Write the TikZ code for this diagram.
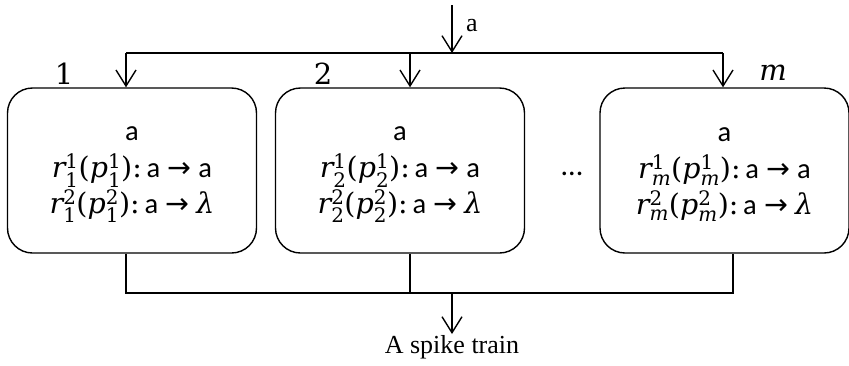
\documentclass[tikz,border=0pt]{standalone}
\usepackage{amsmath}
\usepackage{fontspec}
\setmainfont{Liberation Serif}
\newfontfamily\calib{Carlito}
\newfontfamily\djv{DejaVu Serif}
\newfontfamily\djs{DejaVu Sans}
\usetikzlibrary{arrows.meta}
% italic and upright symbols in a wide serif face
\newcommand\mi[1]{\text{\djv\itshape #1}}
\newcommand\mn[1]{\text{\djv #1}}
\newcommand\spk{{\calib a}}
% one firing rule: r_i^j(p_i^j): a -> product
\newcommand\firerule[3]{$\mi{r}_{#1}^{\mn{#2}}\mn{(}\mi{p}_{#1}^{\mn{#2}}\mn{)}$\mn{:}\,\spk\ {\djs →}\ #3}
\begin{document}
\begin{tikzpicture}[x=1pt,y=-1pt,
  wire/.style={line width=1.4pt},
  feed/.style={wire,-{Straight Barb[length=16pt,width=20pt,line width=1.4pt]}},
  neuron/.style={draw,line width=1.4pt,rounded corners=25pt,minimum width=249pt,
    minimum height=165pt,inner sep=0pt},
  rules/.style={align=center,inner sep=0pt,font=\fontsize{28.5}{35.5}\selectfont},
  tag/.style={font=\fontsize{29}{32}\selectfont}]
\useasboundingbox (0,0) rectangle (849,365);

% neurons and their contents
\node[neuron] (n1) at (132,170.5) {};
\node[neuron] (n2) at (400,170.5) {};
\node[neuron] (n3) at (724.5,170.5) {};
\node[rules] (r1) at ([yshift=-4pt]n1.center) {\spk\\[2pt]\firerule{\mn{1}}{1}{\spk}\\\firerule{\mn{1}}{2}{\mi{λ}}};
\node[rules] (r2) at ([yshift=-4pt]n2.center) {\spk\\[2pt]\firerule{\mn{2}}{1}{\spk}\\\firerule{\mn{2}}{2}{\mi{λ}}};
\node[rules] (r3) at ([yshift=-4pt]n3.center) {\spk\\[2pt]\firerule{\mi{m}}{1}{\spk}\\\firerule{\mi{m}}{2}{\mi{λ}}};
\node[font=\fontsize{30}{32}\selectfont\calib] (dots) at (572,174) {...};

% neuron indices
\node[tag] (i1) at (64,74) {\djv 1};
\node[tag] (i2) at (323,74) {\djv 2};
\node[tag] (i3) at (773,73) {\djv\itshape m};

% input spike distributed to all neurons
\coordinate (src) at (452,5);
\coordinate (hub) at (452,53);
\coordinate (t1) at (126,53);
\coordinate (t2) at (410,53);
\coordinate (t3) at (723,53);
\draw[feed] (src) -- (hub);
\node[font=\fontsize{26}{28}\selectfont] (inlbl) at (472,26) {a};
\draw[wire] (t1) -- (t3);
\draw[feed] (t1) -- (t1 |- n1.north);
\draw[feed] (t2) -- (t2 |- n2.north);
\draw[feed] (t3) -- (t3 |- n3.north);

% outputs merged into the spike train
\coordinate (b1) at (126,293);
\coordinate (b2) at (410,293);
\coordinate (b3) at (733,293);
\coordinate (bm) at (452,293);
\draw[wire] (b1 |- n1.south) -- (b1) -- (b3) -- (b3 |- n3.south);
\draw[wire] (b2 |- n2.south) -- (b2);
\node[font=\fontsize{26}{28}\selectfont,inner sep=1pt] (out) at (452,347) {A spike train};
\draw[feed] (bm) -- (out.north);
\end{tikzpicture}
\end{document}
